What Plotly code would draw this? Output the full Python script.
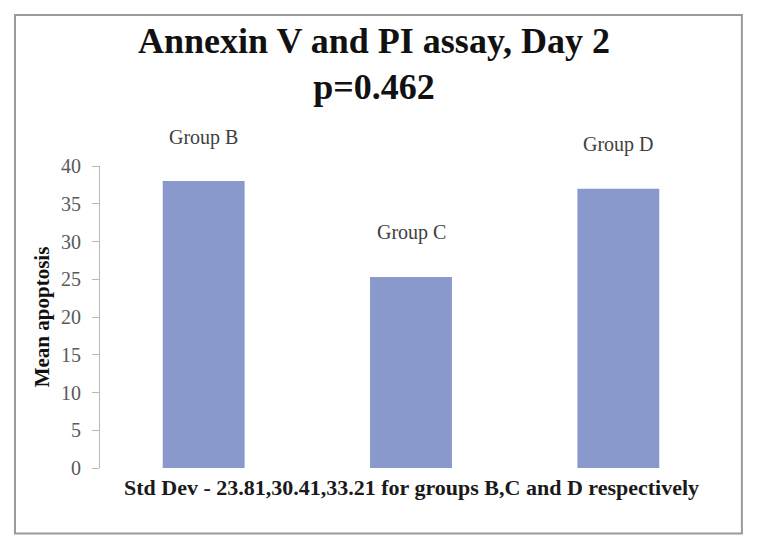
import plotly.graph_objects as go

# ─── Data ────────────────────────────────────────────────────────────────────
groups = ["Group B", "Group C", "Group D"]
mean_apoptosis = [38.0, 25.3, 37.0]
std_devs = ["23.81", "30.41", "33.21"]
p_value = "0.462"
y_ticks = [0, 5, 10, 15, 20, 25, 30, 35, 40]

SERIF = "Liberation Serif, Times New Roman, serif"
BAR_COLOR = "#8999CC"

fig = go.Figure()

fig.add_trace(go.Bar(
    x=groups,
    y=mean_apoptosis,
    marker=dict(color=BAR_COLOR, line=dict(width=0)),
    width=0.395,
    hoverinfo="x+y",
))

# Group labels floating above each bar
for g, v in zip(groups, mean_apoptosis):
    fig.add_annotation(
        x=g, y=v, text=g, showarrow=False,
        yanchor="middle", yshift=44,
        font=dict(family=SERIF, size=20, color="#404040"),
    )

# Std dev note under the axis
fig.add_annotation(
    xref="paper", yref="paper", x=0.50, y=0,
    text=f"<b>Std Dev - {','.join(std_devs)} for groups B,C and D respectively</b>",
    showarrow=False, yanchor="top", yshift=-5,
    font=dict(family=SERIF, size=22, color="#1a1a1a"),
)

# Outer chart frame
fig.add_shape(
    type="rect", xref="paper", yref="paper",
    x0=-0.1367, x1=1.032, y0=-0.2165, y1=1.500,
    line=dict(color="#9a9a9a", width=2), fillcolor="rgba(0,0,0,0)",
    layer="below",
)

# page body adds an 8px offset, so the figure is 8px smaller each way
fig.update_layout(
    width=750, height=543,
    paper_bgcolor="white", plot_bgcolor="white",
    margin=dict(l=92, r=36, t=158, b=82.5),
    showlegend=False,
    title=dict(
        text=f"<b>Annexin V and PI assay, Day 2<br>p={p_value}</b>",
        x=0.488, xanchor="center", xref="container",
        y=0.918, yanchor="top", yref="container",
        font=dict(family=SERIF, size=36, color="#111111"),
    ),
    xaxis=dict(
        showline=False, showgrid=False, ticks="", showticklabels=False,
        zeroline=False,
    ),
    yaxis=dict(
        range=[0, 40], tickvals=y_ticks,
        showline=True, linecolor="#b8b8b8", linewidth=1,
        ticks="outside", ticklen=7, tickcolor="#b8b8b8",
        ticklabelstandoff=7,
        showgrid=False, zeroline=False,
        tickfont=dict(family=SERIF, size=20, color="#595959"),
        title=dict(text="<b>Mean apoptosis</b>", standoff=5,
                   font=dict(family=SERIF, size=21, color="#111111")),
    ),
)

fig.write_html("out.html")
